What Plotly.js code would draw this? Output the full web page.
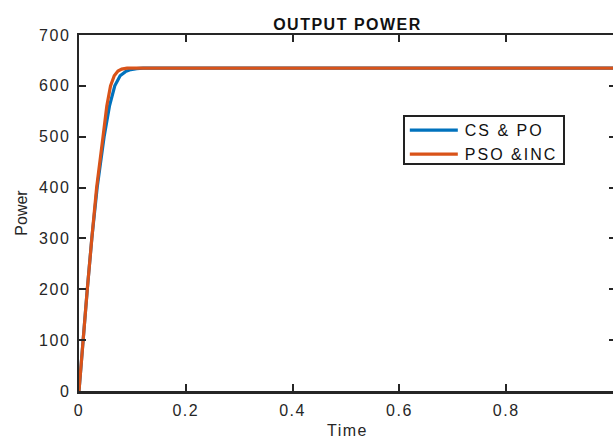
<!DOCTYPE html>
<html>
<head>
<meta charset="utf-8">
<script src="https://cdn.plot.ly/plotly-3.0.1.min.js"></script>
<style>
html,body{margin:0;padding:0;overflow:hidden;background:#fff;}
#chart{width:616px;height:439px;}
.xtick text, .ytick text {letter-spacing:1.5px;}
.gtitle, .xtitle {letter-spacing:1.5px;}
.legendtext {letter-spacing:2px;}
</style>
</head>
<body>
<div id="chart"></div>
<script>
// CS & PO (blue)
var timeCS  = [0, 0.007, 0.0155, 0.024, 0.034, 0.047, 0.057, 0.067, 0.077, 0.087, 0.097, 0.108, 0.12, 0.2, 0.4, 0.6, 0.8, 1.0];
var powerCS = [0, 100, 200, 300, 400, 500, 560, 600, 620, 628, 632, 634, 635, 635, 635, 635, 635, 635];
// PSO & INC (orange)
var timePSO  = [0, 0.007, 0.0155, 0.024, 0.033, 0.045, 0.052, 0.059, 0.066, 0.073, 0.08, 0.09, 0.1, 0.12, 0.2, 0.4, 0.6, 0.8, 1.0];
var powerPSO = [0, 100, 200, 300, 400, 500, 560, 600, 620, 629, 633, 635, 635, 635, 635, 635, 635, 635, 635];
var xTicks = [0, 0.2, 0.4, 0.6, 0.8];
var xTickText = ['0', '0.2', '0.4', '0.6', '0.8'];
var yTicks = [0, 100, 200, 300, 400, 500, 600, 700];

var font = 'Liberation Sans, Arial, sans-serif';
var traces = [
  {x: timeCS, y: powerCS, mode: 'lines', name: 'CS &amp; PO',
   line: {color: '#0072BD', width: 3.2}},
  {x: timePSO, y: powerPSO, mode: 'lines', name: 'PSO &amp;INC',
   line: {color: '#D95319', width: 3.2}}
];
var axisCommon = {
  showgrid: false, zeroline: false, showline: true, linecolor: '#262626', linewidth: 2.5,
  mirror: 'ticks', ticks: 'inside', ticklen: 7, tickwidth: 2, tickcolor: '#262626',
  ticklabelstandoff: 3,
  tickfont: {family: font, size: 16, color: '#262626'}
};
var layout = {
  width: 616, height: 439,
  margin: {l: 79, r: 0, t: 35, b: 48},
  paper_bgcolor: '#fff', plot_bgcolor: '#fff',
  title: {text: '<b>OUTPUT POWER</b>', font: {family: font, size: 16, color: '#111'},
          x: 0.5, xref: 'paper', y: 0.945, yanchor: 'middle'},
  xaxis: Object.assign({}, axisCommon, {
    range: [0, 1.0056], tickvals: xTicks, ticktext: xTickText,
    title: {text: 'Time', font: {family: font, size: 16, color: '#262626'}, standoff: 8}
  }),
  yaxis: Object.assign({}, axisCommon, {
    range: [0, 700], tickvals: yTicks,
    title: {text: 'Power', font: {family: font, size: 16, color: '#262626'}, standoff: 8}
  }),
  showlegend: true,
  legend: {x: 0.603, y: 0.775, xanchor: 'left', yanchor: 'top',
           bgcolor: '#fff', bordercolor: '#222', borderwidth: 2, itemwidth: 50,
           font: {family: font, size: 16, color: '#111'}, tracegroupgap: 0}
};
Plotly.newPlot('chart', traces, layout, {displayModeBar: false, staticPlot: true}).then(function(gd){
  // lengthen legend line samples to match reference
  gd.querySelectorAll('.legend .legendlines path').forEach(function(p){ p.setAttribute('d', 'M5,0h48'); });
  // tighten legend item spacing and box height
  var items = gd.querySelectorAll('.legend .traces');
  var rowY = [15, 39];
  items.forEach(function(g, i){
    var m = /translate\(([-\d.]+)[ ,]+([-\d.]+)\)/.exec(g.getAttribute('transform') || '');
    var tx = m ? m[1] : 0;
    g.setAttribute('transform', 'translate(' + tx + ',' + rowY[i] + ')');
  });
  var bg = gd.querySelector('.legend rect.bg');
  if (bg) bg.setAttribute('height', 48);
});
</script>
</body>
</html>
